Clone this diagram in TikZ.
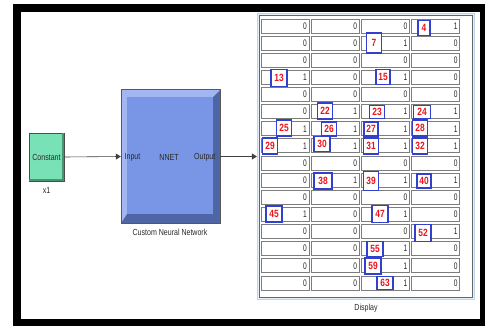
\documentclass[tikz,border=0pt]{standalone}
\usepackage{fontspec}
\setmainfont{Liberation Sans}
\newfontfamily\narrowfont[FakeStretch=0.8]{Liberation Sans}
\newfontfamily\cellfont[FakeStretch=0.7]{Liberation Sans}
\usetikzlibrary{arrows.meta}
\definecolor{mint}{RGB}{120,226,182}
\definecolor{mintdark}{RGB}{70,150,115}
\definecolor{nnface}{RGB}{120,150,229}
\definecolor{nnlight}{RGB}{164,182,242}
\definecolor{nndark}{RGB}{78,102,166}
\definecolor{dispblue}{RGB}{190,214,240}
\definecolor{cellgray}{RGB}{125,125,125}
\definecolor{lblblue}{RGB}{50,65,205}
\definecolor{lblred}{RGB}{235,20,30}
\definecolor{txt}{RGB}{40,40,40}
\begin{document}
\begin{tikzpicture}[x=1pt,y=-1pt,
  small/.style={font=\narrowfont\fontsize{8.8}{9}\selectfont, text=txt, inner sep=0pt},
  cellval/.style={font=\cellfont\fontsize{9.5}{10}\selectfont, text=txt, inner sep=0pt},
  cellbox/.style={draw=cellgray, line width=0.9pt, fill=white, minimum width=48pt, minimum height=14pt, inner sep=0pt},
  tag/.style={draw=lblblue, line width=1.8pt, fill=white, text=lblred, font=\narrowfont\fontsize{10.5}{11}\selectfont\bfseries, inner sep=0pt, minimum width=15pt, minimum height=15pt},
  link/.style={draw=black!75, line width=0.6pt, -{Triangle[length=5pt,width=6pt]}}]
\useasboundingbox (0,0) rectangle (487,326);
% frame
\fill[black] (13,4) rectangle (485,326);
\fill[white] (21,12) rectangle (480,319);

% Constant block
\node[draw=black!70, fill=mint, line width=0.8pt, minimum width=35pt, minimum height=48pt, inner sep=0pt] (con) at (46.5,157) {};
\fill[mintdark] ([xshift=-2pt,yshift=-0.4pt]con.north east) rectangle ([xshift=-0.4pt,yshift=0.4pt]con.south east);
\fill[mintdark] ([xshift=0.4pt,yshift=2pt]con.south west) rectangle ([xshift=-0.4pt,yshift=0.4pt]con.south east);
\node[small] (contxt) at (46.5,157) {Constant};
\node[small] (x1) at (46.5,190) {x1};

% NNET block
\node[minimum width=99pt, minimum height=133pt, inner sep=0pt] (nnet) at (170.5,156.5) {};
\fill[nnlight] (121,90) -- (220,90) -- (213,97) -- (127,97) -- (127,214) -- (121,223) -- cycle;
\fill[nndark] (220,90) -- (213,97) -- (213,214) -- (127,214) -- (121,223) -- (220,223) -- cycle;
\fill[nnface] (127,97) rectangle (213,214);
\draw[black!65, line width=0.6pt] (nnet.north west) rectangle (nnet.south east);
\node[small, anchor=west] (inp) at (124.5,157) {Input};
\node[small] (nn) at (169,157) {NNET};
\node[small, anchor=east] (outp) at (215.5,157) {Output};
\node[small] (cnn) at (170,232) {Custom Neural Network};

% Display block
\node[draw=dispblue, fill=dispblue!40, line width=1.2pt, minimum width=217pt, minimum height=286pt, inner sep=0pt] (disp) at (366,156.5) {};
\draw[black!60, fill=white, line width=0.8pt] (259.5,15.5) rectangle (472,297);
\node[small] (dlabel) at (366,308) {Display};

\foreach \r/\vals in {1/{0,0,0,1},2/{0,0,1,0},3/{0,0,0,0},4/{1,0,1,0},5/{0,0,0,0},6/{0,1,1,1},7/{1,1,1,1},8/{1,1,1,1},9/{0,0,0,0},10/{0,1,1,1},11/{0,0,0,0},12/{1,0,1,0},13/{0,0,0,1},14/{0,0,1,0},15/{0,0,1,0},16/{0,0,1,0}}{
  \foreach \v [count=\c] in \vals {
    \pgfmathsetmacro{\cx}{285+(\c-1)*50.3}
    \pgfmathsetmacro{\cy}{26+(\r-1)*17.13}
    \node[cellbox] (c-\r-\c) at (\cx,\cy) {};
    \node[cellval, anchor=east] (v-\r-\c) at ([xshift=-2.5pt]c-\r-\c.east) {\v};
  }
}

% tags
\foreach \n/\x/\y/\h/\w in {4/424/28/15/12,7/374/43/20/15,13/279/78/17/16,15/383/77/15/14,22/325/111/16/15,23/377/112/13/15,24/422/112/13/17,25/284/128/16/15,26/329/129/14/15,27/371/129/14/14,28/420/128/16/15,29/270/146/16/15,30/322/144/15/16,31/371/146/16/15,32/420/146/16/15,38/323/181/16/18,39/371/181/19/15,40/424/181/14/14,45/274/214/16/16,47/380/214/17/16,52/423/233/17/16,55/375/249/15/16,59/373/266/16/16,63/385/283/13/16}{
  \node[tag, minimum width=\w pt, minimum height=\h pt] (t\n) at (\x,\y) {\n};
}

% connectors
\draw[link] (con.east) -- (nnet.west);
\draw[link] (nnet.east) -- (disp.west);
\end{tikzpicture}
\end{document}
